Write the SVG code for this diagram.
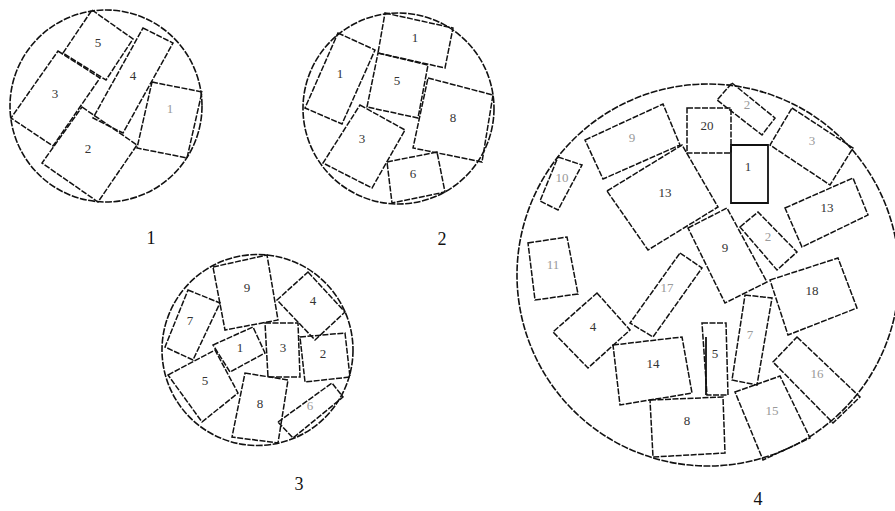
<svg xmlns="http://www.w3.org/2000/svg" width="895" height="511" viewBox="0 0 895 511">
<style>
.c{fill:none;stroke:#111;stroke-width:1.6;stroke-dasharray:7 1.5}
.r{fill:none;stroke:#111;stroke-width:1.5;stroke-dasharray:6 1.5}
.s{fill:none;stroke:#111;stroke-width:1.8}
.t{font-family:"Liberation Serif",serif;font-size:13px;fill:#333;text-anchor:middle;dominant-baseline:central}
.f{fill:#999}
.cap{font-family:"Liberation Serif",serif;font-size:18px;fill:#111;text-anchor:middle}
</style>
<rect width="895" height="511" fill="#fff"/>
<g id="packing1">
<circle class="c" cx="106" cy="106" r="96"/>
<g id="p1-5"><polygon class="r" points="92,10 133,39 106,80 63,53"/><text class="t" x="98" y="42">5</text></g>
<g id="p1-3"><polygon class="r" points="58,51 100,78 53,146 11,118"/><text class="t" x="55" y="93">3</text></g>
<g id="p1-4"><polygon class="r" points="143,28 173,43 123,133 93,118"/><text class="t" x="133" y="75">4</text></g>
<g id="p1-2"><polygon class="r" points="82,107 137,145 98,202 42,163"/><text class="t" x="88" y="148">2</text></g>
<g id="p1-1"><polygon class="r" points="152,82 202,92 187,158 137,148"/><text class="t f" x="170" y="108">1</text></g>
<text class="cap" x="151" y="244">1</text>
</g>
<g id="packing2">
<circle class="c" cx="398.5" cy="108.5" r="95.5"/>
<g id="p2-1a"><polygon class="r" points="385,13 453,28 445,68 378,53"/><text class="t" x="415" y="37">1</text></g>
<g id="p2-1b"><polygon class="r" points="338,33 375,50 342,124 305,108"/><text class="t" x="340" y="73">1</text></g>
<g id="p2-5"><polygon class="r" points="378,53 428,65 418,118 367,107"/><text class="t" x="397" y="80">5</text></g>
<g id="p2-8"><polygon class="r" points="428,78 493,95 482,162 413,148"/><text class="t" x="453" y="117">8</text></g>
<g id="p2-3"><polygon class="r" points="360,105 405,130 372,188 323,163"/><text class="t" x="362" y="138">3</text></g>
<g id="p2-6"><polygon class="r" points="387,162 437,152 445,192 392,203"/><text class="t" x="413" y="173">6</text></g>
<text class="cap" x="442" y="245">2</text>
</g>
<g id="packing3">
<circle class="c" cx="257.5" cy="350" r="95.5"/>
<g id="p3-9"><polygon class="r" points="213,267 267,255 278,320 225,330"/><text class="t" x="247" y="287">9</text></g>
<g id="p3-4"><polygon class="r" points="308,272 345,312 315,340 277,300"/><text class="t" x="313" y="300">4</text></g>
<g id="p3-7"><polygon class="r" points="188,290 220,303 193,360 165,347"/><text class="t" x="190" y="320">7</text></g>
<g id="p3-1"><polygon class="r" points="213,345 253,327 265,353 230,372"/><text class="t" x="240" y="347">1</text></g>
<g id="p3-3"><polygon class="r" points="265,323 298,323 300,377 268,377"/><text class="t" x="283" y="347">3</text></g>
<g id="p3-2"><polygon class="r" points="300,337 345,333 350,377 305,382"/><text class="t" x="323" y="353">2</text></g>
<g id="p3-5"><polygon class="r" points="168,375 215,350 238,393 202,422"/><text class="t" x="205" y="380">5</text></g>
<g id="p3-8"><polygon class="r" points="245,373 288,380 278,443 232,437"/><text class="t" x="260" y="403">8</text></g>
<g id="p3-6"><polygon class="r" points="278,422 332,383 343,397 293,438"/><text class="t f" x="310" y="405">6</text></g>
<text class="cap" x="299" y="490">3</text>
</g>
<g id="packing4">
<circle class="c" cx="708" cy="275" r="191"/>
<g id="p4-9a"><polygon class="r" points="585,140 663,104 680,145 603,179"/><text class="t f" x="632" y="137">9</text></g>
<g id="p4-20"><polygon class="r" points="687,108 731,108 731,153 687,153"/><text class="t" x="707" y="125">20</text></g>
<g id="p4-2a"><polygon class="r" points="732,83 775,118 762,135 717,100"/><text class="t f" x="747" y="104">2</text></g>
<g id="p4-1"><polygon class="s" points="731,145 768,145 768,203 731,203"/><text class="t" x="748" y="166">1</text></g>
<g id="p4-3"><polygon class="r" points="792,108 853,148 830,185 770,145"/><text class="t f" x="812" y="140">3</text></g>
<g id="p4-10"><polygon class="r" points="558,157 582,165 558,210 540,201"/><text class="t f" x="562" y="177">10</text></g>
<g id="p4-13a"><polygon class="r" points="607,191 682,145 718,207 648,250"/><text class="t" x="665" y="192">13</text></g>
<g id="p4-13b"><polygon class="r" points="785,208 853,178 868,215 802,247"/><text class="t" x="827" y="207">13</text></g>
<g id="p4-11"><polygon class="r" points="528,243 567,237 578,294 535,300"/><text class="t f" x="553" y="264">11</text></g>
<g id="p4-9b"><polygon class="r" points="688,228 727,208 767,282 725,303"/><text class="t" x="725" y="247">9</text></g>
<g id="p4-2b"><polygon class="r" points="740,227 758,212 797,252 777,270"/><text class="t f" x="768" y="236">2</text></g>
<g id="p4-17"><polygon class="r" points="680,253 702,268 653,337 630,323"/><text class="t f" x="667" y="287">17</text></g>
<g id="p4-18"><polygon class="r" points="770,280 838,258 857,308 788,335"/><text class="t" x="812" y="290">18</text></g>
<g id="p4-4"><polygon class="r" points="597,293 630,330 588,368 553,332"/><text class="t" x="593" y="326">4</text></g>
<g id="p4-7"><polygon class="r" points="745,295 772,298 757,385 732,380"/><text class="t f" x="750" y="334">7</text></g>
<g id="p4-5"><polygon class="r" points="702,323 726,323 728,395 707,395"/><line class="s" x1="706" y1="337" x2="706" y2="395"/><text class="t" x="715" y="353">5</text></g>
<g id="p4-14"><polygon class="r" points="613,345 682,337 692,393 620,405"/><text class="t" x="653" y="363">14</text></g>
<g id="p4-16"><polygon class="r" points="797,337 860,397 833,423 773,362"/><text class="t f" x="817" y="373">16</text></g>
<g id="p4-8"><polygon class="r" points="650,400 723,397 725,453 653,457"/><text class="t" x="687" y="420">8</text></g>
<g id="p4-15"><polygon class="r" points="735,392 780,376 810,438 763,460"/><text class="t f" x="772" y="410">15</text></g>
<text class="cap" x="758" y="505">4</text>
</g>
<g id="connectors"/>
</svg>
